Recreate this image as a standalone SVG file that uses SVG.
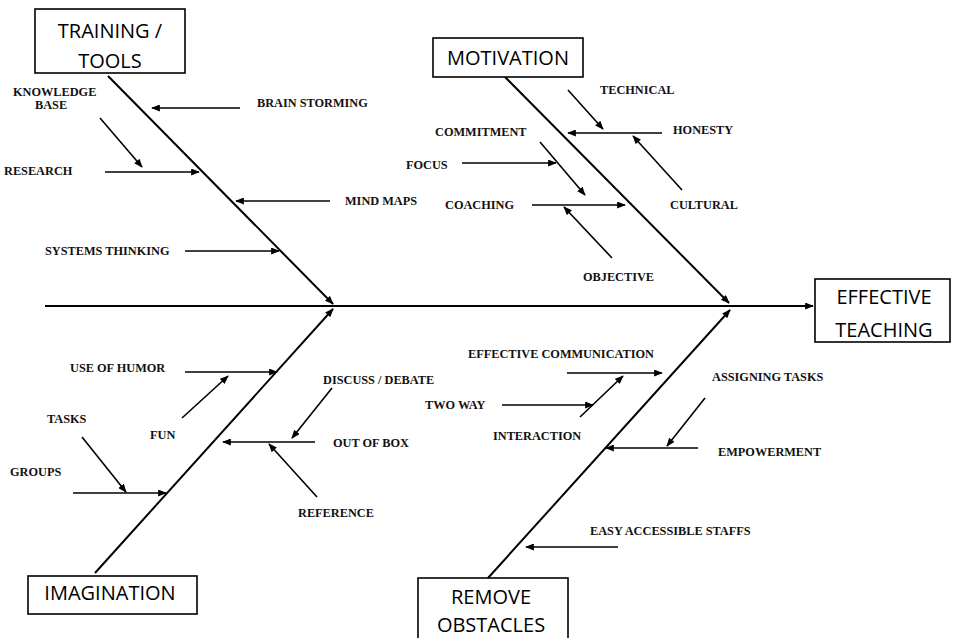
<svg xmlns="http://www.w3.org/2000/svg" width="955" height="638" viewBox="0 0 955 638">
<defs>
<marker id="ah" viewBox="0 0 10 8" refX="9" refY="4" markerWidth="9" markerHeight="7" markerUnits="userSpaceOnUse" orient="auto">
<path d="M0,0 L10,4 L0,8 Z" fill="#000"/>
</marker>
</defs>
<style>
.box{fill:#fff;stroke:#000;stroke-width:1.6}
.bt{font-family:"Open Sans","Liberation Sans",sans-serif;font-size:20px;fill:#000;text-anchor:middle}
.lb{font-family:"Liberation Serif","Times New Roman",serif;font-size:12.3px;font-weight:bold;fill:#111}
.bone{stroke:#000;stroke-width:2;fill:none;marker-end:url(#ah)}
.sub{stroke:#000;stroke-width:1.6;fill:none;marker-end:url(#ah)}
</style>
<rect width="955" height="638" fill="#fff"/>
<g id="connectors">
<line class="bone" x1="45" y1="306" x2="813" y2="306"/>
<line class="bone" x1="108" y1="76" x2="333" y2="304"/>
<line class="bone" x1="505" y1="77" x2="729" y2="303"/>
<line class="bone" x1="95" y1="573" x2="333" y2="309"/>
<line class="bone" x1="488" y1="578" x2="730" y2="310"/>
<!-- training -->
<line class="sub" x1="240" y1="108" x2="152" y2="108"/>
<line class="sub" x1="100" y1="118" x2="142" y2="167"/>
<line class="sub" x1="105" y1="172" x2="199" y2="172"/>
<line class="sub" x1="330" y1="201" x2="236" y2="201"/>
<line class="sub" x1="185" y1="251" x2="279" y2="251"/>
<!-- motivation -->
<line class="sub" x1="568" y1="90" x2="603" y2="129"/>
<line class="sub" x1="662" y1="133" x2="568" y2="133"/>
<line class="sub" x1="682" y1="190" x2="633" y2="136"/>
<line class="sub" x1="540" y1="142" x2="585" y2="195"/>
<line class="sub" x1="462" y1="163" x2="556" y2="163"/>
<line class="sub" x1="532" y1="205" x2="625" y2="205"/>
<line class="sub" x1="612" y1="258" x2="564" y2="207"/>
<!-- imagination -->
<line class="sub" x1="185" y1="372" x2="277" y2="372"/>
<line class="sub" x1="182" y1="418" x2="228" y2="376"/>
<line class="sub" x1="332" y1="388" x2="292" y2="438"/>
<line class="sub" x1="315" y1="442" x2="223" y2="442"/>
<line class="sub" x1="317" y1="497" x2="269" y2="444"/>
<line class="sub" x1="82" y1="437" x2="126" y2="492"/>
<line class="sub" x1="73" y1="493" x2="166" y2="493"/>
<!-- remove obstacles -->
<line class="sub" x1="567" y1="373" x2="662" y2="373"/>
<line class="sub" x1="502" y1="405" x2="593" y2="405"/>
<line class="sub" x1="580" y1="417" x2="623" y2="376"/>
<line class="sub" x1="705" y1="398" x2="667" y2="446"/>
<line class="sub" x1="698" y1="448" x2="606" y2="448"/>
<line class="sub" x1="618" y1="547" x2="526" y2="547"/>
</g>
<g id="training-tools">
<rect class="box" x="35" y="9" width="150" height="64"/>
<text class="bt" x="110" y="38">TRAINING /</text>
<text class="bt" x="110" y="68">TOOLS</text>
</g>
<g id="motivation">
<rect class="box" x="433" y="38" width="150" height="39"/>
<text class="bt" x="508" y="65">MOTIVATION</text>
</g>
<g id="imagination">
<rect class="box" x="28" y="576" width="169" height="38"/>
<text class="bt" x="110" y="600">IMAGINATION</text>
</g>
<g id="remove-obstacles">
<rect class="box" x="418" y="578" width="150" height="70"/>
<text class="bt" x="491" y="604">REMOVE</text>
<text class="bt" x="491" y="632">OBSTACLES</text>
</g>
<g id="effective-teaching">
<rect class="box" x="815" y="279" width="135" height="63"/>
<text class="bt" x="884" y="304">EFFECTIVE</text>
<text class="bt" x="884" y="337">TEACHING</text>
</g>
<g id="labels">
<text class="lb" x="13" y="96">KNOWLEDGE</text>
<text class="lb" x="35" y="109">BASE</text>
<text class="lb" x="257" y="107">BRAIN STORMING</text>
<text class="lb" x="4" y="175">RESEARCH</text>
<text class="lb" x="345" y="205">MIND MAPS</text>
<text class="lb" x="45" y="255">SYSTEMS THINKING</text>
<text class="lb" x="600" y="94">TECHNICAL</text>
<text class="lb" x="673" y="134">HONESTY</text>
<text class="lb" x="435" y="136">COMMITMENT</text>
<text class="lb" x="406" y="169">FOCUS</text>
<text class="lb" x="445" y="209">COACHING</text>
<text class="lb" x="670" y="209">CULTURAL</text>
<text class="lb" x="583" y="281">OBJECTIVE</text>
<text class="lb" x="70" y="372">USE OF HUMOR</text>
<text class="lb" x="323" y="384">DISCUSS / DEBATE</text>
<text class="lb" x="47" y="423">TASKS</text>
<text class="lb" x="150" y="439">FUN</text>
<text class="lb" x="333" y="447">OUT OF BOX</text>
<text class="lb" x="10" y="476">GROUPS</text>
<text class="lb" x="298" y="517">REFERENCE</text>
<text class="lb" x="468" y="358">EFFECTIVE COMMUNICATION</text>
<text class="lb" x="712" y="381">ASSIGNING TASKS</text>
<text class="lb" x="425" y="409">TWO WAY</text>
<text class="lb" x="493" y="440">INTERACTION</text>
<text class="lb" x="718" y="456">EMPOWERMENT</text>
<text class="lb" x="590" y="535">EASY ACCESSIBLE STAFFS</text>
</g>
</svg>
